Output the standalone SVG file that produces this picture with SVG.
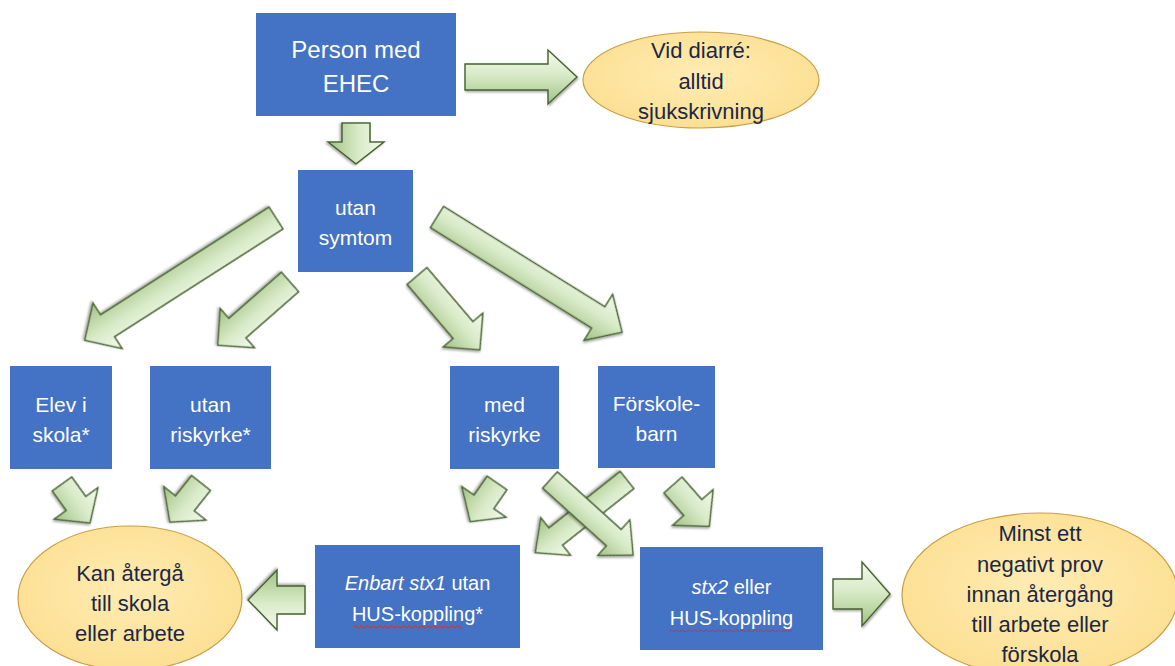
<svg xmlns="http://www.w3.org/2000/svg" width="1175" height="666" viewBox="0 0 1175 666">
<defs>
<linearGradient id="ag" x1="0" y1="0" x2="0" y2="1">
<stop offset="0" stop-color="#F3F9EC"/>
<stop offset="0.45" stop-color="#D9EBC9"/>
<stop offset="1" stop-color="#A3C285"/>
</linearGradient>
<radialGradient id="eg" cx="0.5" cy="0.45" r="0.6">
<stop offset="0" stop-color="#FFECB3"/>
<stop offset="1" stop-color="#FCDE90"/>
</radialGradient>
<filter id="sh" x="-20%" y="-20%" width="140%" height="140%">
<feDropShadow dx="1" dy="1.5" stdDeviation="1" flood-color="#000" flood-opacity="0.35"/>
</filter>
</defs>
<style>
.box{fill:#4472C4;}
.ell{fill:url(#eg);stroke:#C99E45;stroke-width:1.2;}
.arr{fill:url(#ag);stroke:#45622F;stroke-width:1.4;stroke-linejoin:miter;filter:url(#sh);}
.wt{font-family:"Liberation Sans",Arial,sans-serif;fill:#FFFFFF;text-anchor:middle;}
.dk{font-family:"Liberation Sans",Arial,sans-serif;fill:#1B2845;text-anchor:middle;}
.sq{fill:none;stroke:#D9302C;stroke-width:1;}
</style>
<rect width="1175" height="666" fill="#FFFFFF"/>

<g id="connectors">
<path class="arr" transform="translate(465,77)" d="M0,-13 L83,-13 L83,-27 L112,0 L83,27 L83,13 L0,13 Z"/>
<path class="arr" transform="translate(356,123) rotate(90)" d="M0,-14 L19,-14 L19,-28 L41,0 L19,28 L19,14 L0,14 Z"/>
<path class="arr" transform="translate(276,218) rotate(147.4)" d="M0,-13 L200,-13 L200,-27 L227,0 L200,27 L200,13 L0,13 Z"/>
<path class="arr" transform="translate(290,282) rotate(138.8)" d="M0,-13 L70,-13 L70,-26 L96,0 L70,26 L70,13 L0,13 Z"/>
<path class="arr" transform="translate(417,276) rotate(49.6)" d="M0,-13 L71,-13 L71,-26 L97,0 L71,26 L71,13 L0,13 Z"/>
<path class="arr" transform="translate(437,217) rotate(31.9)" d="M0,-12.5 L190,-12.5 L190,-27 L218,0 L190,27 L190,12.5 L0,12.5 Z"/>
<path class="arr" transform="translate(62,484) rotate(54.3)" d="M0,-12 L24,-12 L24,-27 L48,0 L24,27 L24,12 L0,12 Z"/>
<path class="arr" transform="translate(201,483) rotate(128.5)" d="M0,-12 L26,-12 L26,-27 L50,0 L26,27 L26,12 L0,12 Z"/>
<path class="arr" transform="translate(497,483) rotate(124.7)" d="M0,-12 L23,-12 L23,-27 L47,0 L23,27 L23,12 L0,12 Z"/>
<path class="arr" transform="translate(673,485) rotate(48.7)" d="M0,-12 L30,-12 L30,-27 L55,0 L30,27 L30,12 L0,12 Z"/>
<path class="arr" transform="translate(627,480) rotate(141.6)" d="M0,-11 L91,-11 L91,-24 L117,0 L91,24 L91,11 L0,11 Z"/>
<path class="arr" transform="translate(550,480) rotate(42.1)" d="M0,-11 L86,-11 L86,-24 L112,0 L86,24 L86,11 L0,11 Z"/>
<path class="arr" transform="translate(305,600) rotate(180)" d="M0,-14 L28,-14 L28,-30 L57,0 L28,30 L28,14 L0,14 Z"/>
<path class="arr" transform="translate(833,594)" d="M0,-15 L29,-15 L29,-32 L57,0 L29,32 L29,15 L0,15 Z"/>
</g>

<g id="person">
<rect class="box" x="256" y="13" width="200" height="103"/>
<text class="wt" font-size="24" x="356" y="58">Person med</text>
<text class="wt" font-size="24" x="356" y="92">EHEC</text>
</g>

<g id="vid-diarre">
<ellipse class="ell" cx="701" cy="80" rx="118" ry="48"/>
<text class="dk" font-size="22" x="701" y="58">Vid diarré:</text>
<text class="dk" font-size="22" x="701" y="89">alltid</text>
<text class="dk" font-size="22" x="701" y="119">sjukskrivning</text>
</g>

<g id="utan-symtom">
<rect class="box" x="298" y="170" width="115" height="102"/>
<text class="wt" font-size="21" x="355.5" y="215">utan</text>
<text class="wt" font-size="21" x="355.5" y="245">symtom</text>
</g>

<g id="elev">
<rect class="box" x="10" y="366" width="102" height="103"/>
<text class="wt" font-size="21" x="61" y="412">Elev i</text>
<text class="wt" font-size="21" x="61" y="442">skola*</text>
</g>

<g id="utan-riskyrke">
<rect class="box" x="150" y="366" width="121" height="103"/>
<text class="wt" font-size="21" x="210.5" y="412">utan</text>
<text class="wt" font-size="21" x="210.5" y="442">riskyrke*</text>
</g>

<g id="med-riskyrke">
<rect class="box" x="450" y="366" width="109" height="103"/>
<text class="wt" font-size="21" x="504.5" y="412">med</text>
<text class="wt" font-size="21" x="504.5" y="442">riskyrke</text>
</g>

<g id="forskolebarn">
<rect class="box" x="598" y="366" width="117" height="102"/>
<text class="wt" font-size="21" x="656.5" y="411">Förskole-</text>
<text class="wt" font-size="21" x="656.5" y="441">barn</text>
</g>

<g id="kan-atergaa">
<ellipse class="ell" cx="130" cy="598" rx="112" ry="72"/>
<text class="dk" font-size="22" x="130" y="581">Kan återgå</text>
<text class="dk" font-size="22" x="130" y="611">till skola</text>
<text class="dk" font-size="22" x="130" y="641">eller arbete</text>
</g>

<g id="enbart-stx1">
<rect class="box" x="315" y="545" width="205" height="103"/>
<text class="wt" font-size="20" x="417.5" y="590"><tspan font-style="italic">Enbart stx1</tspan> utan</text>
<text class="wt" font-size="20" x="417.5" y="621">HUS-koppling*</text>
<path class="sq" d="M354,627 q1.5,-2 3,0 t3,0 t3,0 t3,0 t3,0 t3,0 t3,0 t3,0 t3,0 t3,0 t3,0 t3,0 t3,0 t3,0 t3,0 t3,0 t3,0 t3,0 t3,0 t3,0 t3,0 t3,0 t3,0 t3,0 t3,0 t3,0 t3,0 t3,0 t3,0 t3,0 t3,0 t3,0 t3,0 t3,0 t3,0 t3,0"/>
</g>

<g id="stx2">
<rect class="box" x="640" y="547" width="183" height="103"/>
<text class="wt" font-size="20" x="731.5" y="594"><tspan font-style="italic">stx2</tspan> eller</text>
<text class="wt" font-size="20" x="731.5" y="625">HUS-koppling</text>
<path class="sq" d="M669,631 q1.5,-2 3,0 t3,0 t3,0 t3,0 t3,0 t3,0 t3,0 t3,0 t3,0 t3,0 t3,0 t3,0 t3,0 t3,0 t3,0 t3,0 t3,0 t3,0 t3,0 t3,0 t3,0 t3,0 t3,0 t3,0 t3,0 t3,0 t3,0 t3,0 t3,0 t3,0 t3,0 t3,0 t3,0 t3,0 t3,0 t3,0 t3,0 t3,0 t3,0 t3,0 t3,0"/>
</g>

<g id="minst-ett">
<ellipse class="ell" cx="1040" cy="595" rx="138" ry="82"/>
<text class="dk" font-size="22" x="1040" y="541">Minst ett</text>
<text class="dk" font-size="22" x="1040" y="572">negativt prov</text>
<text class="dk" font-size="22" x="1040" y="602">innan återgång</text>
<text class="dk" font-size="22" x="1040" y="632">till arbete eller</text>
<text class="dk" font-size="22" x="1040" y="662">förskola</text>
</g>
</svg>
